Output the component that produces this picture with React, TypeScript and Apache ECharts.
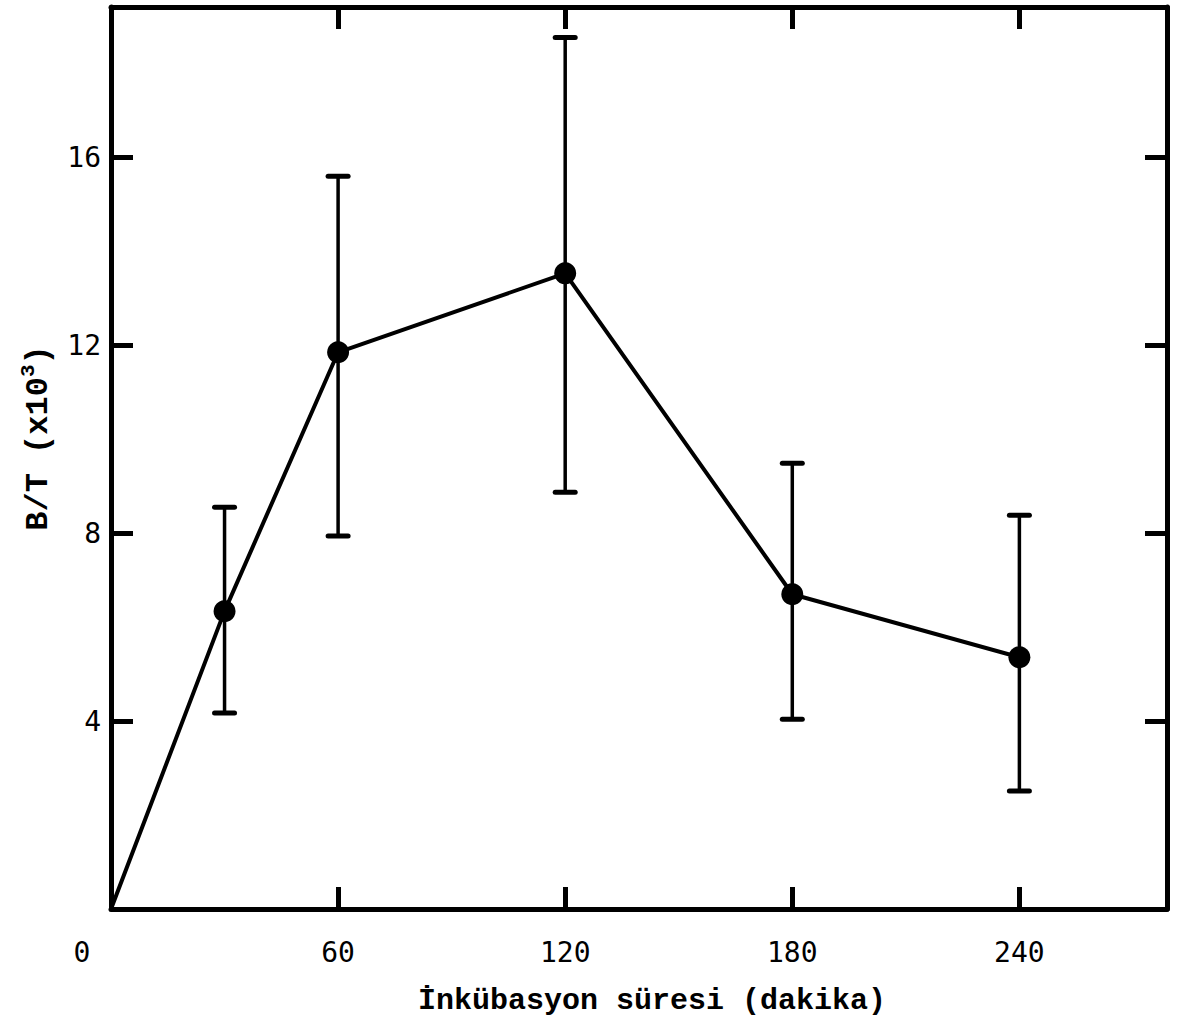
import React, { useEffect, useRef } from "react";
import * as echarts from "echarts";

const times = [0, 30, 60, 120, 180, 240];
const means = [0, 6.34, 11.85, 13.53, 6.7, 5.36];
const lowers = [null, 4.17, 7.94, 8.87, 4.04, 2.51];
const uppers = [null, 8.55, 15.6, 18.55, 9.49, 8.38];
const xTickLabels = ["0", "60", "120", "180", "240"];
const yTickLabels = ["4", "8", "12", "16"];
const xTitle = "İnkübasyon süresi (dakika)";
const yTitleMain = "B/T (x10";
const yTitleSup = "3";

const TICK_FONT = "'DejaVu Sans Mono', monospace";
const TITLE_FONT = "'Liberation Mono', 'DejaVu Sans Mono', monospace";

export default function App() {
  const ref = useRef<HTMLDivElement>(null);
  useEffect(() => {
    if (!ref.current) return;
    const chart = echarts.init(ref.current, null, { renderer: "svg" });

    const lineData = times.map((t, i) =>
      i === 0 ? { value: [t, means[i]], symbolSize: 0 } : { value: [t, means[i]] }
    );
    const errData: any[] = [];
    times.forEach((t, i) => {
      if (lowers[i] != null && uppers[i] != null) errData.push([t, lowers[i], uppers[i]]);
    });

    const axisLine = { show: true, onZero: false, lineStyle: { color: "#000", width: 5 } };
    const axisTick = { show: true, inside: true, length: 22, lineStyle: { color: "#000", width: 5 } };

    const option: any = {
      animation: false,
      backgroundColor: "#fff",
      grid: { left: 111, right: 10, top: 7, bottom: 116, containLabel: false, outerBoundsMode: "none" },
      xAxis: [
        {
          type: "value",
          position: "bottom",
          min: 0,
          max: 279,
          interval: 60,
          axisLine,
          axisTick,
          splitLine: { show: false },
          axisLabel: {
            showMaxLabel: false,
            margin: 29,
            color: "#000",
            fontSize: 28,
            fontFamily: TICK_FONT,
            formatter: (v: number) => {
              const s = xTickLabels.find((l) => Number(l) === v);
              if (s === undefined) return "";
              return v === 0 ? "{z|" + s + "}" : s;
            },
            rich: { z: { padding: [0, 58, 0, 0], fontSize: 28, fontFamily: TICK_FONT, color: "#000" } },
          },
        },
        {
          type: "value",
          position: "top",
          min: 0,
          max: 279,
          interval: 60,
          axisLine,
          axisTick,
          splitLine: { show: false },
          axisLabel: { show: false },
        },
      ],
      yAxis: [
        {
          type: "value",
          position: "left",
          min: 0,
          max: 19.2,
          interval: 4,
          axisLine,
          axisTick,
          splitLine: { show: false },
          axisLabel: {
            showMinLabel: false,
            showMaxLabel: false,
            margin: 10,
            color: "#000",
            fontSize: 28,
            fontFamily: TICK_FONT,
            formatter: (v: number) => {
              const s = yTickLabels.find((l) => Number(l) === v);
              return s === undefined ? "" : s;
            },
          },
        },
        {
          type: "value",
          position: "right",
          min: 0,
          max: 19.2,
          interval: 4,
          axisLine,
          axisTick,
          splitLine: { show: false },
          axisLabel: { show: false },
        },
      ],
      series: [
        {
          type: "custom",
          xAxisIndex: 0,
          yAxisIndex: 0,
          data: errData,
          encode: { x: 0, y: [1, 2] },
          z: 2,
          renderItem: (params: any, api: any) => {
            const x = api.value(0);
            const lo = api.coord([x, api.value(1)]);
            const hi = api.coord([x, api.value(2)]);
            const half = 10;
            const stem = { stroke: "#000", lineWidth: 3.5 };
            const cap = { stroke: "#000", lineWidth: 5, lineCap: "round" };
            return {
              type: "group",
              children: [
                { type: "line", shape: { x1: lo[0], y1: lo[1], x2: hi[0], y2: hi[1] }, style: stem },
                { type: "line", shape: { x1: lo[0] - half, y1: lo[1], x2: lo[0] + half, y2: lo[1] }, style: cap },
                { type: "line", shape: { x1: hi[0] - half, y1: hi[1], x2: hi[0] + half, y2: hi[1] }, style: cap },
              ],
            };
          },
        },
        {
          type: "line",
          xAxisIndex: 0,
          yAxisIndex: 0,
          data: lineData,
          z: 3,
          symbol: "circle",
          symbolSize: 22,
          lineStyle: { color: "#000", width: 4 },
          itemStyle: { color: "#000" },
        },
      ],
      graphic: [
        {
          type: "text",
          x: 652,
          y: 1001,
          style: {
            text: xTitle,
            font: "bold 30px " + TITLE_FONT,
            fill: "#000",
            align: "center",
            verticalAlign: "middle",
          },
        },
        {
          type: "text",
          x: 36,
          y: 438,
          rotation: Math.PI / 2,
          style: {
            text: "{a|" + yTitleMain + "}{s|" + yTitleSup + "}{a|)}",
            align: "center",
            verticalAlign: "middle",
            rich: {
              a: { font: "bold 32px " + TITLE_FONT, fill: "#000", color: "#000", verticalAlign: "bottom", lineHeight: 36 },
              s: { font: "bold 21px " + TITLE_FONT, fill: "#000", color: "#000", verticalAlign: "top", lineHeight: 36 },
            },
          },
        },
      ],
    };
    chart.setOption(option);
    return () => chart.dispose();
  }, []);
  return (
    <div
      ref={ref}
      style={{ position: "fixed", left: 0, top: 0, width: 1177, height: 1025, background: "#fff" }}
    />
  );
}
